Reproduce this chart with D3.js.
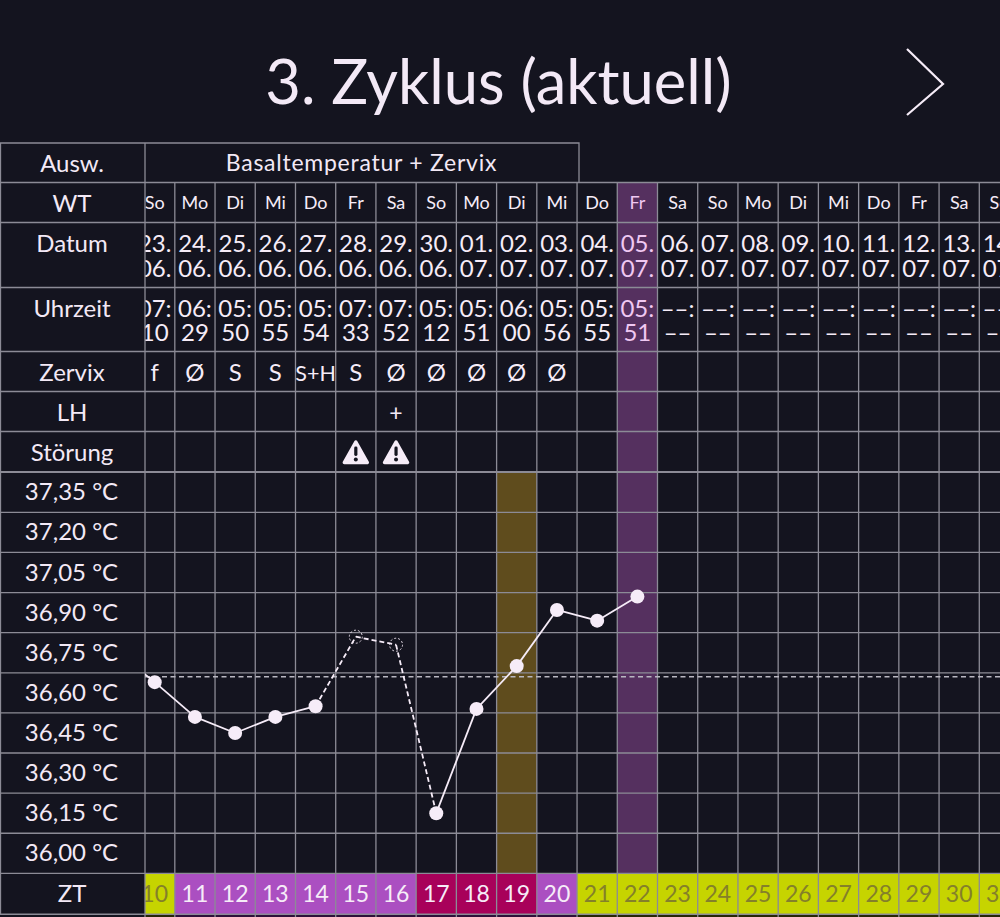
<!DOCTYPE html>
<html lang="de">
<head>
<meta charset="utf-8">
<title>3. Zyklus (aktuell)</title>
<script src="https://cdn.jsdelivr.net/npm/d3@7"></script>
<style>
  html, body { margin: 0; padding: 0; background: #14141f; overflow: hidden; }
  svg { display: block; }
  text { font-family: Lato, "Open Sans", sans-serif; }
</style>
</head>
<body>
<svg id="chart" width="1000" height="917" fill="#f3e9f6"></svg>
<script>
// Cycle table
const cycleDays = [10,11,12,13,14,15,16,17,18,19,20,21,22,23,24,25,26,27,28,29,30,31];
const weekdays = ["So","Mo","Di","Mi","Do","Fr","Sa","So","Mo","Di","Mi","Do","Fr","Sa","So","Mo","Di","Mi","Do","Fr","Sa","So"];
const dateDays = ["23.","24.","25.","26.","27.","28.","29.","30.","01.","02.","03.","04.","05.","06.","07.","08.","09.","10.","11.","12.","13.","14."];
const dateMonths = ["06.","06.","06.","06.","06.","06.","06.","06.","07.","07.","07.","07.","07.","07.","07.","07.","07.","07.","07.","07.","07.","07."];
const timeHours = ["07:","06:","05:","05:","05:","07:","07:","05:","05:","06:","05:","05:","05:","––:","––:","––:","––:","––:","––:","––:","––:","––:"];
const timeMinutes = ["10","29","50","55","54","33","52","12","51","00","56","55","51","––","––","––","––","––","––","––","––","––"];
const cervix = ["f","Ø","S","S","S+H","S","Ø","Ø","Ø","Ø","Ø"];
const lhDays = [16];
const disturbedDays = [15,16];
const temperatures = [36.64,36.51,36.45,36.51,36.55,36.81,36.78,36.15,36.54,36.70,36.91,36.87,36.96];
const previousDay = { day: 9, t: 36.76 };
const tempTicks = [37.35,37.20,37.05,36.90,36.75,36.60,36.45,36.30,36.15,36.00];
const baseline = 36.66;
const purpleDays = [11,12,13,14,15,16,20];
const crimsonDays = [17,18,19];
const peakDay = 19;
const todayDay = 22;
const rowTitles = ["Ausw.","WT","Datum","Uhrzeit","Zervix","LH","Störung"];
const evaluationLabel = "Basaltemperatur + Zervix";
const chartTitle = "3. Zyklus (aktuell)";

const W = 1000, H = 917, leftEdge = 145;
const svg = d3.select("#chart");
const colorBg = "#14141f", colorGrid = "#8c8b96", colorInk = "#f6ecf8";

svg.append("defs").append("clipPath").attr("id", "columns")
  .append("rect").attr("x", leftEdge).attr("y", 0).attr("width", W - leftEdge).attr("height", H);

const x = d3.scaleLinear().domain([10, 31]).range([154.7, 999.4]);
const colW = x(11) - x(10);
const y = d3.scaleLinear().domain([36.00, 37.35]).range([853.3, 492.3]);
const rowH = y(36.00) - y(36.15);

// Horizontal table rules, top to bottom
const tableTop = 143, ruleWT = 182.5, ruleDate = 222.5, ruleTime = 287.5, ruleCervix = 351.5,
      ruleLH = 391.5, ruleDist = 431.5, ruleTemp = 472, ruleZT = y(36.00) + rowH / 2, tableBottom = ruleZT + rowH + 0.8;

const days = cycleDays;
const columns = svg.append("g").attr("clip-path", "url(#columns)");

// Highlighted columns
columns.append("rect").attr("x", x(todayDay) - colW / 2).attr("width", colW)
  .attr("y", ruleWT).attr("height", ruleZT - ruleWT).attr("fill", "#55305f");
columns.append("rect").attr("x", x(peakDay) - colW / 2).attr("width", colW)
  .attr("y", ruleTemp).attr("height", ruleZT - ruleTemp).attr("fill", "#5f4c1d");

// Cycle-day strip, with the darker band of the row below it
const limeFill = "#c6d400";
const ztColor = d => purpleDays.includes(d) ? "#ab4fc1" : crimsonDays.includes(d) ? "#a8015a" : limeFill;
const ztShade = d => purpleDays.includes(d) || crimsonDays.includes(d) ? "#2e0f3a" : "#262606";
columns.selectAll("rect.zt").data(days).join("rect").attr("class", "zt")
  .attr("x", d => x(d) - colW / 2).attr("width", colW + 0.5)
  .attr("y", ruleZT).attr("height", tableBottom - ruleZT)
  .attr("fill", ztColor);
columns.selectAll("rect.zts").data(days).join("rect").attr("class", "zts")
  .attr("x", d => x(d) - colW / 2).attr("width", colW + 0.5)
  .attr("y", tableBottom).attr("height", H - tableBottom)
  .attr("fill", ztShade);

// Grid
const grid = svg.append("g").attr("stroke", colorGrid).attr("stroke-width", 1.3).attr("fill", "none");
const hRules = [ruleWT, ruleDate, ruleTime, ruleCervix, ruleLH, ruleDist, ruleTemp]
  .concat(tempTicks.map(t => y(t) + rowH / 2));
grid.selectAll("line.h").data(hRules).join("line").attr("class", "h")
  .attr("x1", 0).attr("x2", W).attr("y1", d => d).attr("y2", d => d)
  .attr("stroke-width", d => d === ruleTemp ? 1.9 : 1.3);
grid.append("line").attr("x1", 0).attr("x2", W).attr("y1", tableBottom).attr("y2", tableBottom);
grid.append("path").attr("d", `M579,${ruleWT}V${tableTop}H0.5V${tableBottom}`);
grid.append("line").attr("x1", leftEdge).attr("x2", leftEdge).attr("y1", tableTop).attr("y2", H);
grid.selectAll("line.v").data(days.slice(0, -1)).join("line").attr("class", "v")
  .attr("x1", d => x(d) + colW / 2).attr("x2", d => x(d) + colW / 2)
  .attr("y1", ruleWT).attr("y2", H);

// Title and navigation chevron
svg.append("text").attr("x", 498.5).attr("y", 104).attr("text-anchor", "middle")
  .attr("font-size", 61.5).attr("font-weight", 400).text(chartTitle);
svg.append("path").attr("d", "M907,49L943,84L907,115").attr("fill", "none")
  .attr("stroke", colorInk).attr("stroke-width", 2.2);

// Row headers
const headerY = [172, 212, 252, 317, 381, 421, 461];
svg.selectAll("text.rowTitle").data(rowTitles).join("text").attr("class", "rowTitle")
  .attr("x", 72).attr("y", (d, i) => headerY[i]).attr("text-anchor", "middle")
  .attr("font-size", 24).text(d => d);
svg.append("text").attr("x", 361.5).attr("y", 171).attr("text-anchor", "middle")
  .attr("font-size", 23).attr("letter-spacing", 0.75).text(evaluationLabel);

// Column cell text
const cellText = (values, yPos, size, cls) => columns.selectAll("text." + cls)
  .data(values).join("text").attr("class", cls)
  .attr("x", (d, i) => x(days[i])).attr("y", yPos)
  .attr("text-anchor", "middle")
  .attr("font-size", d => String(d).length > 3 ? 21 : size)
  .attr("fill", (d, i) => days[i] === todayDay ? "#f0c8f2" : colorInk)
  .text(d => d);
cellText(weekdays, 209, 18, "wd");
cellText(dateDays, 252, 24, "dd");
cellText(dateMonths, 277, 24, "dm");
cellText(timeHours, 317, 24, "th");
cellText(timeMinutes, 341, 24, "tm");
cellText(cervix.map(c => c), 381, 24, "cx").attr("font-size", d => d.length > 1 ? 21.5 : 24);

// LH test marks
columns.selectAll("text.lh").data(lhDays).join("text").attr("class", "lh")
  .attr("x", d => x(d)).attr("y", 420.5).attr("text-anchor", "middle")
  .attr("font-size", 23).text("+");

// Disturbance warning icons
const warn = columns.selectAll("g.warn").data(disturbedDays).join("g").attr("class", "warn")
  .attr("transform", d => `translate(${x(d)},452.5)`);
warn.append("path").attr("d", "M0,-10.5L11.5,10H-11.5Z").attr("fill", colorInk)
  .attr("stroke", colorInk).attr("stroke-width", 3.5).attr("stroke-linejoin", "round");
warn.append("rect").attr("x", -1.6).attr("y", -6).attr("width", 3.2).attr("height", 9.5)
  .attr("rx", 1.4).attr("fill", colorBg);
warn.append("circle").attr("cx", 0).attr("cy", 7).attr("r", 2).attr("fill", colorBg);

// Temperature labels
svg.selectAll("text.temp").data(tempTicks).join("text").attr("class", "temp")
  .attr("x", 71.5).attr("y", d => y(d) + 8).attr("text-anchor", "middle")
  .attr("font-size", 24).text(d => d.toFixed(2).replace(".", ",") + " °C");

// Cover line
svg.append("line").attr("x1", leftEdge).attr("x2", W)
  .attr("y1", y(baseline)).attr("y2", y(baseline))
  .attr("stroke", "#b9b7c1").attr("stroke-width", 1.6).attr("stroke-dasharray", "5 3.5");

// Temperature curve: segments touching a disturbed day are dashed
const points = temperatures.map((t, i) => ({ day: days[i], t }));
const curve = svg.append("g").attr("clip-path", "url(#columns)");
const pairs = d3.pairs([previousDay].concat(points));
curve.selectAll("line").data(pairs).join("line")
  .attr("x1", d => x(d[0].day)).attr("y1", d => y(d[0].t))
  .attr("x2", d => x(d[1].day)).attr("y2", d => y(d[1].t))
  .attr("stroke", colorInk).attr("stroke-width", 1.8)
  .attr("stroke-dasharray", d => disturbedDays.includes(d[0].day) || disturbedDays.includes(d[1].day) ? "5 3" : null);
curve.selectAll("circle").data(points).join("circle")
  .attr("cx", d => x(d.day)).attr("cy", d => y(d.t))
  .attr("r", d => disturbedDays.includes(d.day) ? 6.5 : 7)
  .attr("fill", d => disturbedDays.includes(d.day) ? "none" : colorInk)
  .attr("stroke", d => disturbedDays.includes(d.day) ? colorInk : "none")
  .attr("stroke-width", 0.9)
  .attr("stroke-dasharray", d => disturbedDays.includes(d.day) ? "2 2" : null);

// Cycle-day numbers
columns.selectAll("text.ztn").data(days).join("text").attr("class", "ztn")
  .attr("x", d => x(d)).attr("y", tableBottom - 12.5).attr("text-anchor", "middle")
  .attr("font-size", 23)
  .attr("fill", d => ztColor(d) === limeFill ? "#84802a" : colorInk)
  .text(d => d);

svg.append("text").attr("x", 72).attr("y", tableBottom - 12.5).attr("text-anchor", "middle")
  .attr("font-size", 24).text("ZT");
</script>
</body>
</html>
